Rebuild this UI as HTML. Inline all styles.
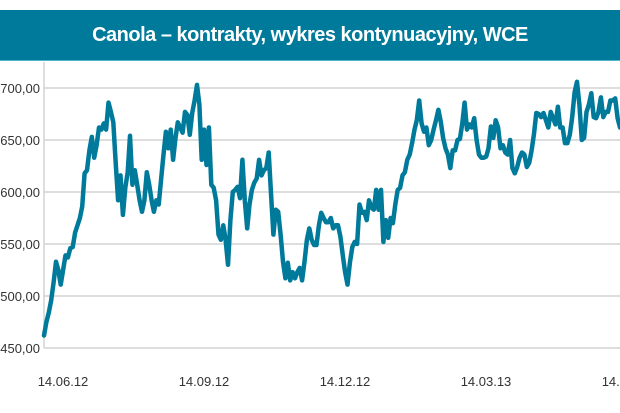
<!DOCTYPE html>
<html><head><meta charset="utf-8"><style>
body{margin:0;background:#fff;width:620px;height:413px;overflow:hidden;font-family:"Liberation Sans",sans-serif}
#title{position:absolute;left:0;top:10px;width:620px;height:50px;background:#007a9b;border-bottom:1px solid #4fb3cc;color:#fff;font-weight:bold;font-size:20px;line-height:50px;text-align:center;letter-spacing:-0.5px}
svg{position:absolute;left:0;top:0}
</style></head><body>
<div id="title">Canola – kontrakty, wykres kontynuacyjny, WCE</div>
<svg id="c" width="620" height="413"></svg>
<script>
const yTicks=[450,500,550,600,650,700];
const xLabels=["14.06.12","14.09.12","14.12.12","14.03.13","14.06.13"];
const prices=[462,475,484,496,513,533,525,511,525,539,537,546,547,561,568,575,586,618,621,640,653,633,645,662,660,666,660,686,677,667,628,592,616,578,604,619,654,607,621,607,592,581,592,619,607,592,581,592,588,612,636,658,642,660,631,652,667,662,657,677,674,655,676,688,703,684,631,660,626,662,607,604,592,559,554,568,554,530,573,600,602,605,594,631,592,565,588,602,609,613,631,616,621,623,638,597,559,583,581,559,533,517,532,515,523,517,523,527,515,533,554,565,554,549,549,568,580,575,571,571,575,565,568,568,557,539,523,511,532,547,552,550,588,580,581,573,592,585,583,602,583,602,552,573,556,575,570,588,602,604,616,619,631,636,647,660,669,688,666,658,662,645,650,660,669,679,668,652,642,636,623,640,640,650,651,666,686,660,665,662,671,650,636,633,633,634,642,663,652,669,662,642,645,638,636,650,623,618,624,633,638,636,624,628,640,656,676,675,672,676,669,662,677,671,665,682,662,662,647,647,655,672,696,706,684,650,652,677,684,695,672,671,677,691,672,677,677,688,688,690,671,662];
const NS="http://www.w3.org/2000/svg";
const svg=document.getElementById('c');
const x0=44,x1=620,yBase=348,pxPerUnit=52/50;
function yS(v){return yBase-(v-450)*pxPerUnit;}
function xS(i){return x0+i*(x1-x0)/(prices.length-1);}
function xLab(i){return 63+i*141;}
function mk(t,a){const e=document.createElementNS(NS,t);for(const k in a)e.setAttribute(k,a[k]);svg.appendChild(e);return e;}
yTicks.forEach(v=>{
  const l=mk('line',{x1:x0,x2:620,y1:yS(v),y2:yS(v),stroke:'#d4d4d4','stroke-width':1.5});
  
  
  const t=mk('text',{x:40,y:yS(v)+5,'text-anchor':'end','font-size':13,fill:'#333'});
  t.textContent=v+',00';
  
  
});
const ax=mk('line',{x1:x0,x2:x0,y1:62,y2:yBase,stroke:'#d4d4d4','stroke-width':1.5});


xLabels.forEach((s,i)=>{
  const t=mk('text',{x:xLab(i),y:386,'text-anchor':'middle','font-size':13,fill:'#333'});
  t.textContent=s;
  
  
});
const p=mk('polyline',{points:prices.map((v,i)=>xS(i).toFixed(1)+','+yS(v).toFixed(1)).join(' '),fill:'none',stroke:'#007a9b','stroke-width':4.5,'stroke-linejoin':'round','stroke-linecap':'round'});


</script>
</body></html>
